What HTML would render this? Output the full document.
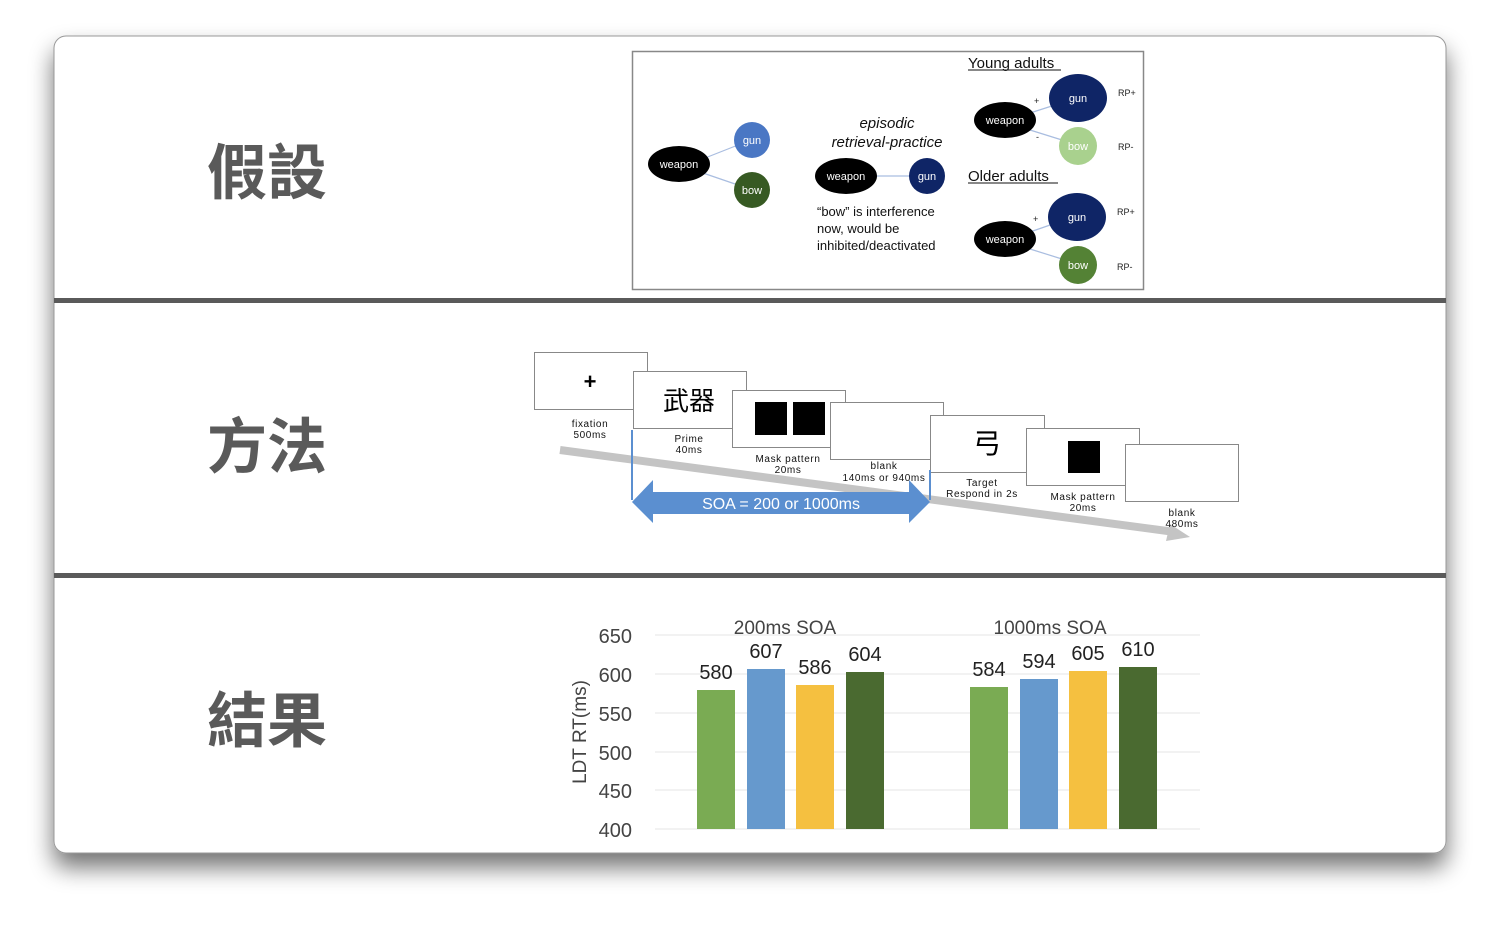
<!DOCTYPE html>
<html><head><meta charset="utf-8"><style>
html,body{margin:0;padding:0;background:#fff;}
svg{display:block;}
</style></head><body>
<svg width="1500" height="925" viewBox="0 0 1500 925" xmlns="http://www.w3.org/2000/svg" font-family="Liberation Sans, DejaVu Sans, sans-serif">
<defs>
<filter id="sh" x="-10%" y="-10%" width="120%" height="125%">
<feGaussianBlur in="SourceAlpha" stdDeviation="12"/>
<feOffset dy="14"/>
<feComponentTransfer><feFuncA type="linear" slope="0.55"/></feComponentTransfer>
<feMerge><feMergeNode/><feMergeNode in="SourceGraphic"/></feMerge>
</filter>
</defs>
<rect width="1500" height="925" fill="#fff"/>
<rect x="54" y="36" width="1392" height="817" rx="12" fill="#fff" stroke="#999" stroke-width="1" filter="url(#sh)"/>
<rect x="54" y="298" width="1392" height="5" fill="#5a5a5a"/>
<rect x="54" y="573" width="1392" height="5" fill="#5a5a5a"/>

<g font-family="Liberation Sans, Noto Sans CJK TC, sans-serif" font-weight="bold" font-size="60" fill="#5a5a5a" text-anchor="middle">
<text x="267" y="194">假設</text>
<text x="267" y="468">方法</text>
<text x="267" y="742">結果</text>
</g>

<!-- Hypothesis box -->
<rect x="632.5" y="51.5" width="511" height="238" fill="#fff" stroke="#888" stroke-width="1.5"/>
<g stroke="#a9bde0" stroke-width="1.2">
<line x1="700" y1="160" x2="738" y2="145"/><line x1="700" y1="172" x2="738" y2="185"/>
<line x1="875" y1="176" x2="910" y2="176"/>
<line x1="1030" y1="113" x2="1055" y2="105"/><line x1="1030" y1="130" x2="1062" y2="140"/>
<line x1="1030" y1="232" x2="1053" y2="224"/><line x1="1030" y1="249" x2="1062" y2="259"/>
</g>
<g font-size="11" text-anchor="middle">
<ellipse cx="679" cy="164" rx="31" ry="18" fill="#000"/><text x="679" y="168" fill="#fff">weapon</text>
<circle cx="752" cy="140" r="18" fill="#4a77c4"/><text x="752" y="144" fill="#fff">gun</text>
<circle cx="752" cy="190" r="18" fill="#375a23"/><text x="752" y="194" fill="#fff">bow</text>
<ellipse cx="846" cy="176" rx="31" ry="18" fill="#000"/><text x="846" y="180" fill="#fff">weapon</text>
<circle cx="927" cy="176" r="18" fill="#0f2566"/><text x="927" y="180" fill="#fff">gun</text>
<ellipse cx="1005" cy="120" rx="31" ry="18" fill="#000"/><text x="1005" y="124" fill="#fff">weapon</text>
<ellipse cx="1078" cy="98" rx="29" ry="24" fill="#0f2566"/><text x="1078" y="102" fill="#fff">gun</text>
<circle cx="1078" cy="146" r="19" fill="#a9d18e"/><text x="1078" y="150" fill="#fff">bow</text>
<ellipse cx="1005" cy="239" rx="31" ry="18" fill="#000"/><text x="1005" y="243" fill="#fff">weapon</text>
<ellipse cx="1077" cy="217" rx="29" ry="24" fill="#0f2566"/><text x="1077" y="221" fill="#fff">gun</text>
<circle cx="1078" cy="265" r="19" fill="#548235"/><text x="1078" y="269" fill="#fff">bow</text>
</g>
<g font-size="9" fill="#222">
<text x="1118" y="96">RP+</text><text x="1118" y="150">RP-</text>
<text x="1117" y="215">RP+</text><text x="1117" y="270">RP-</text>
<text x="1034" y="104">+</text><text x="1036" y="140">-</text><text x="1033" y="222">+</text>
</g>
<g font-size="15" fill="#111">
<text x="968" y="68">Young adults</text>
<text x="968" y="181">Older adults</text>
<line x1="968" y1="70" x2="1061" y2="70" stroke="#111"/>
<line x1="968" y1="183" x2="1058" y2="183" stroke="#111"/>
<text x="887" y="128" text-anchor="middle" font-style="italic">episodic</text>
<text x="887" y="147" text-anchor="middle" font-style="italic">retrieval-practice</text>
</g>
<g font-size="13" fill="#111">
<text x="817" y="216">“bow” is interference</text>
<text x="817" y="233">now, would be</text>
<text x="817" y="250">inhibited/deactivated</text>
</g>

<!-- Method -->
<path d="M560 450 L1175 532" stroke="#c4c4c4" stroke-width="8"/>
<polygon points="1170,524 1190,537 1166,541" fill="#c4c4c4"/>
<g fill="#fff" stroke="#888" stroke-width="1">
<rect x="534.5" y="352.5" width="113" height="57"/>
<rect x="633.5" y="371.5" width="113" height="57"/>
<rect x="732.5" y="390.5" width="113" height="57"/>
<rect x="830.5" y="402.5" width="113" height="57"/>
<rect x="930.5" y="415.5" width="114" height="57"/>
<rect x="1026.5" y="428.5" width="113" height="57"/>
<rect x="1125.5" y="444.5" width="113" height="57"/>
</g>
<text x="590" y="389" font-size="22" text-anchor="middle" font-weight="bold">+</text>
<text x="689" y="410" font-size="26" text-anchor="middle" font-family="Liberation Sans, Noto Sans CJK TC, sans-serif">武器</text>
<rect x="755" y="402" width="32" height="33" fill="#000"/><rect x="793" y="402" width="32" height="33" fill="#000"/>
<text x="987" y="453" font-size="28" text-anchor="middle" font-family="Liberation Sans, Noto Sans CJK TC, sans-serif">弓</text>
<rect x="1068" y="441" width="32" height="32" fill="#000"/>
<g font-size="10" text-anchor="middle" fill="#111" letter-spacing="0.6">
<text x="590" y="427">fixation</text><text x="590" y="438">500ms</text>
<text x="689" y="442">Prime</text><text x="689" y="453">40ms</text>
<text x="788" y="462">Mask pattern</text><text x="788" y="473">20ms</text>
<text x="884" y="469">blank</text><text x="884" y="481">140ms or 940ms</text>
<text x="982" y="486">Target</text><text x="982" y="497">Respond in 2s</text>
<text x="1083" y="500">Mask pattern</text><text x="1083" y="511">20ms</text>
<text x="1182" y="516">blank</text><text x="1182" y="527">480ms</text>
</g>
<line x1="632" y1="430" x2="632" y2="500" stroke="#5b8fd0" stroke-width="2"/>
<line x1="930" y1="470" x2="930" y2="500" stroke="#5b8fd0" stroke-width="2"/>
<polygon points="632,502 653,480 653,492 909,492 909,480 930,502 909,523 909,514 653,514 653,523" fill="#5b8fd0"/>
<text x="781" y="509" font-size="16" fill="#fff" text-anchor="middle">SOA = 200 or 1000ms</text>

<!-- Results -->
<g stroke="#e6e6e6" stroke-width="1">
<line x1="655" y1="635" x2="1200" y2="635"/><line x1="655" y1="674" x2="1200" y2="674"/>
<line x1="655" y1="713" x2="1200" y2="713"/><line x1="655" y1="752" x2="1200" y2="752"/>
<line x1="655" y1="790" x2="1200" y2="790"/><line x1="655" y1="829" x2="1200" y2="829"/>
</g>
<g font-size="20" fill="#444" text-anchor="end">
<text x="632" y="643">650</text><text x="632" y="682">600</text><text x="632" y="721">550</text>
<text x="632" y="760">500</text><text x="632" y="798">450</text><text x="632" y="837">400</text>
</g>
<text transform="translate(586 732) rotate(-90)" font-size="19" fill="#444" text-anchor="middle">LDT RT(ms)</text>
<g font-size="19" fill="#444" text-anchor="middle">
<text x="785" y="634">200ms SOA</text><text x="1050" y="634">1000ms SOA</text>
</g>
<g>
<rect x="697" y="690" width="38" height="139" fill="#7aab53"/>
<rect x="747" y="669" width="38" height="160" fill="#6699cd"/>
<rect x="796" y="685" width="38" height="144" fill="#f5c040"/>
<rect x="846" y="672" width="38" height="157" fill="#4a6a30"/>
<rect x="970" y="687" width="38" height="142" fill="#7aab53"/>
<rect x="1020" y="679" width="38" height="150" fill="#6699cd"/>
<rect x="1069" y="671" width="38" height="158" fill="#f5c040"/>
<rect x="1119" y="667" width="38" height="162" fill="#4a6a30"/>
</g>
<g font-size="20" fill="#222" text-anchor="middle">
<text x="716" y="679">580</text><text x="766" y="658">607</text><text x="815" y="674">586</text><text x="865" y="661">604</text>
<text x="989" y="676">584</text><text x="1039" y="668">594</text><text x="1088" y="660">605</text><text x="1138" y="656">610</text>
</g>
</svg>
</body></html>
